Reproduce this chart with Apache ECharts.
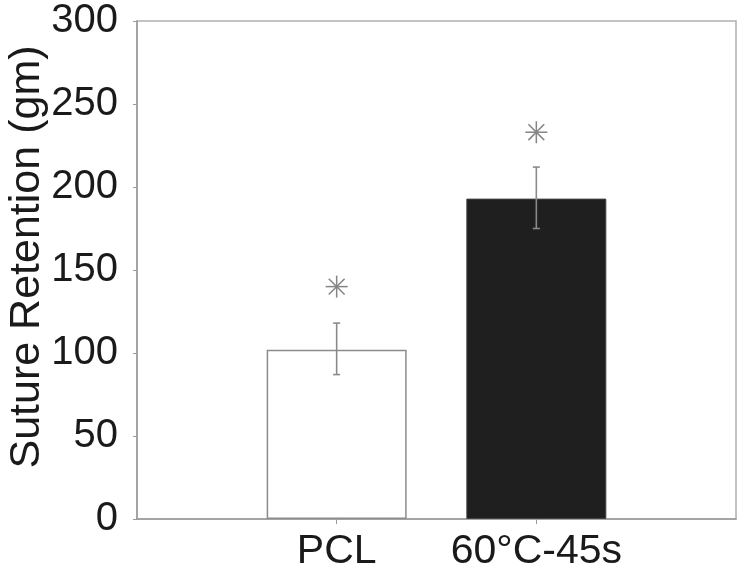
<!DOCTYPE html>
<html>
<head>
<meta charset="utf-8">
<script src="https://cdn.jsdelivr.net/npm/echarts@6/dist/echarts.min.js"></script>
<style>
  html, body { margin: 0; padding: 0; background: #fff; }
  #main { width: 741px; height: 573px; }
</style>
</head>
<body>
<div id="main"></div>
<script>
// data
var groups = ['PCL', '60°C-45s']
var means = [102, 193]
var errLow = [87, 175]
var errHigh = [118, 212]
var starLevel = [140, 233]
var yTicks = [0, 50, 100, 150, 200, 250, 300]

var font = "'Liberation Sans', Arial, Helvetica, sans-serif"

// pad the category axis with an empty slot on each side
var categories = [''].concat(groups).concat([''])
var barData = ['-'].concat(means.map(function (v, i) {
  return {
    value: v,
    itemStyle: i === 0
      ? { color: '#ffffff', borderColor: '#8c8c8c', borderWidth: 1.5 }
      : { color: '#1f1f1f', borderColor: '#444', borderWidth: 1 }
  }
})).concat(['-'])

var errData = groups.map(function (g, i) {
  return [i + 1, errLow[i], errHigh[i], starLevel[i]]
})

function renderMarks(params, api) {
  var x = api.value(0)
  var lo = api.coord([x, api.value(1)])
  var hi = api.coord([x, api.value(2)])
  var st = api.coord([x, api.value(3)])
  var cap = 3.5
  var r = 11
  var d = r * 0.72
  var ls = { stroke: '#8a8a8a', lineWidth: 1.6 }
  var ss = { stroke: '#858585', lineWidth: 1.5 }
  return {
    type: 'group',
    children: [
      { type: 'line', shape: { x1: lo[0], y1: lo[1], x2: hi[0], y2: hi[1] }, style: ls },
      { type: 'line', shape: { x1: hi[0] - cap, y1: hi[1], x2: hi[0] + cap, y2: hi[1] }, style: ls },
      { type: 'line', shape: { x1: lo[0] - cap, y1: lo[1], x2: lo[0] + cap, y2: lo[1] }, style: ls },
      { type: 'line', shape: { x1: st[0], y1: st[1] - r, x2: st[0], y2: st[1] + r }, style: ss },
      { type: 'line', shape: { x1: st[0] - r, y1: st[1], x2: st[0] + r, y2: st[1] }, style: ss },
      { type: 'line', shape: { x1: st[0] - d, y1: st[1] - d, x2: st[0] + d, y2: st[1] + d }, style: ss },
      { type: 'line', shape: { x1: st[0] - d, y1: st[1] + d, x2: st[0] + d, y2: st[1] - d }, style: ss }
    ]
  }
}

var myChart = echarts.init(document.getElementById('main'))
var option = {
  animation: false,
  backgroundColor: '#ffffff',
  grid: {
    left: 137,
    right: 5,
    top: 21,
    bottom: 54,
    outerBoundsMode: 'none',
    show: true,
    borderColor: '#b0b0b0',
    borderWidth: 1.5,
    backgroundColor: 'transparent'
  },
  xAxis: {
    type: 'category',
    data: categories,
    boundaryGap: false,
    axisLine: { lineStyle: { color: '#9a9a9a', width: 1.5 } },
    axisTick: {
      length: 5,
      lineStyle: { color: '#9a9a9a' },
      interval: function (i) { return i === 1 || i === 2 }
    },
    axisLabel: {
      fontFamily: font,
      fontSize: 41,
      color: '#1a1a1a',
      margin: 12,
      interval: 0
    },
    splitLine: { show: false }
  },
  yAxis: {
    type: 'value',
    min: yTicks[0],
    max: yTicks[yTicks.length - 1],
    interval: 50,
    name: 'Suture Retention (gm)',
    nameLocation: 'middle',
    nameGap: 88,
    nameMoveOverlap: false,
    nameTextStyle: {
      fontFamily: font,
      fontSize: 43,
      color: '#1a1a1a',
      padding: [0, 0, 0, 26]
    },
    axisLine: { show: true, lineStyle: { color: '#9a9a9a', width: 1.5 } },
    axisTick: { show: true, length: 4, lineStyle: { color: '#9a9a9a' } },
    axisLabel: {
      fontFamily: font,
      fontSize: 40,
      color: '#1a1a1a',
      margin: 19
    },
    splitLine: { show: false }
  },
  series: [
    {
      type: 'bar',
      barWidth: 140,
      data: barData
    },
    {
      type: 'custom',
      renderItem: renderMarks,
      data: errData,
      z: 5
    }
  ]
}
myChart.setOption(option)
</script>
</body>
</html>
